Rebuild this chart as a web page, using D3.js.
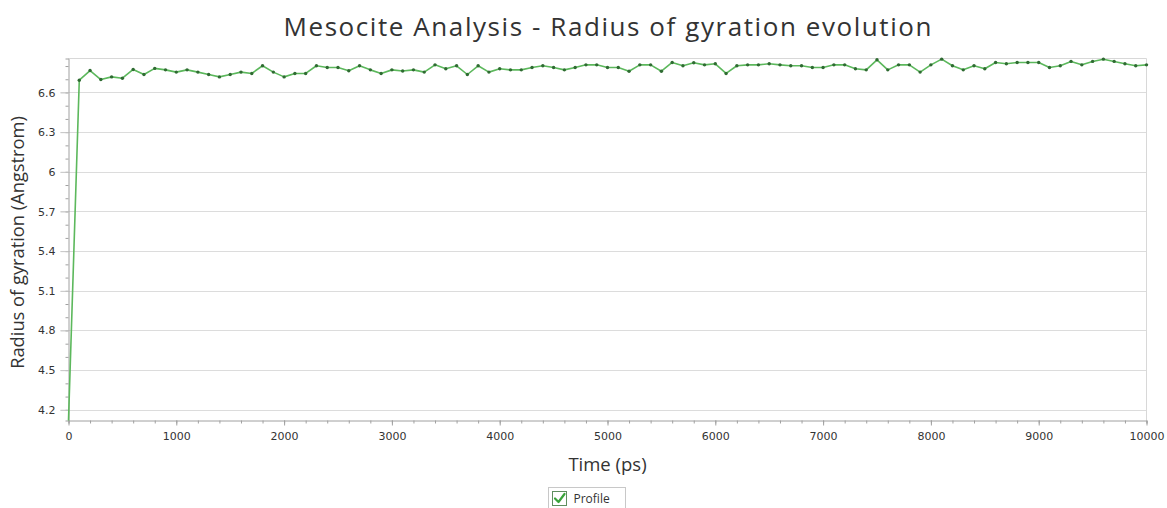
<!DOCTYPE html>
<html>
<head>
<meta charset="utf-8">
<script src="https://cdn.jsdelivr.net/npm/d3@7"></script>
<style>
  html, body { margin: 0; padding: 0; background: #fff; }
  svg { display: block; }
</style>
</head>
<body>
<svg id="chart" width="1167" height="508"></svg>
<script>
// Simulation time samples (ps)
const timePs = [
  0, 100, 200, 300, 400, 500, 600, 700, 800, 900,
  1000, 1100, 1200, 1300, 1400, 1500, 1600, 1700, 1800, 1900,
  2000, 2100, 2200, 2300, 2400, 2500, 2600, 2700, 2800, 2900,
  3000, 3100, 3200, 3300, 3400, 3500, 3600, 3700, 3800, 3900,
  4000, 4100, 4200, 4300, 4400, 4500, 4600, 4700, 4800, 4900,
  5000, 5100, 5200, 5300, 5400, 5500, 5600, 5700, 5800, 5900,
  6000, 6100, 6200, 6300, 6400, 6500, 6600, 6700, 6800, 6900,
  7000, 7100, 7200, 7300, 7400, 7500, 7600, 7700, 7800, 7900,
  8000, 8100, 8200, 8300, 8400, 8500, 8600, 8700, 8800, 8900,
  9000, 9100, 9200, 9300, 9400, 9500, 9600, 9700, 9800, 9900,
  10000
];

// Radius of gyration (Angstrom) at each time sample
const radiusProfile = [
  4.119, 6.693, 6.766, 6.698, 6.718, 6.708, 6.774, 6.736, 6.782, 6.771,
  6.754, 6.771, 6.754, 6.736, 6.718, 6.736, 6.754, 6.744, 6.802, 6.754,
  6.718, 6.744, 6.744, 6.802, 6.789, 6.789, 6.764, 6.802, 6.771, 6.744,
  6.771, 6.762, 6.771, 6.754, 6.809, 6.779, 6.802, 6.736, 6.802, 6.754,
  6.779, 6.771, 6.771, 6.789, 6.802, 6.789, 6.771, 6.789, 6.809, 6.809,
  6.789, 6.789, 6.761, 6.809, 6.809, 6.761, 6.827, 6.802, 6.825, 6.809,
  6.817, 6.744, 6.802, 6.809, 6.809, 6.817, 6.809, 6.802, 6.802, 6.789,
  6.789, 6.809, 6.809, 6.779, 6.771, 6.847, 6.771, 6.809, 6.809, 6.754,
  6.809, 6.852, 6.802, 6.771, 6.802, 6.779, 6.827, 6.817, 6.827, 6.827,
  6.827, 6.789, 6.802, 6.835, 6.809, 6.835, 6.852, 6.835, 6.817, 6.802,
  6.809
];

const xTickValues = [0, 1000, 2000, 3000, 4000, 5000, 6000, 7000, 8000, 9000, 10000];
const yTickValues = [4.2, 4.5, 4.8, 5.1, 5.4, 5.7, 6, 6.3, 6.6];
const seriesName = "Profile";
const titleText = "Mesocite Analysis - Radius of gyration evolution";
const xTitle = "Time (ps)";
const yTitle = "Radius of gyration (Angstrom)";

const svg = d3.select("#chart");
const plot = { left: 68.5, right: 1146.5, top: 58.5, bottom: 420.5 };

const x = d3.scaleLinear().domain([0, 10000]).range([plot.left, plot.right]);
const y = d3.scaleLinear().domain([4.119, 6.857]).range([plot.bottom, plot.top]);

const tickFont = "'DejaVu Sans', Verdana, sans-serif";
const uiFont = "'Open Sans', 'Noto Sans', sans-serif";

// Horizontal grid lines at labelled values
svg.append("g")
  .selectAll("line")
  .data(yTickValues)
  .join("line")
  .attr("x1", plot.left - 8).attr("x2", plot.right)
  .attr("y1", d => Math.round(y(d)) + 0.5).attr("y2", d => Math.round(y(d)) + 0.5)
  .attr("stroke", "#dcdcdc").attr("stroke-width", 1);

// Frame: light top and right borders
svg.append("line")
  .attr("x1", plot.left).attr("x2", plot.right)
  .attr("y1", plot.top).attr("y2", plot.top)
  .attr("stroke", "#d8d8d8");
svg.append("line")
  .attr("x1", plot.right).attr("x2", plot.right)
  .attr("y1", plot.top).attr("y2", plot.bottom)
  .attr("stroke", "#d8d8d8");

// Y axis: minor ticks every 0.1, labels every 0.3
const yMinor = d3.range(42, 69).map(v => v / 10);
svg.append("g")
  .attr("transform", `translate(${plot.left},0)`)
  .call(d3.axisLeft(y).tickValues(yMinor).tickSize(3).tickFormat(""))
  .call(g => g.select(".domain").attr("stroke", "#a0a0a0"))
  .call(g => g.selectAll(".tick line").attr("stroke", "#a0a0a0"));

svg.append("g")
  .attr("transform", `translate(${plot.left},0)`)
  .call(d3.axisLeft(y).tickValues(yTickValues).tickSize(8).tickPadding(5)
    .tickFormat(d => String(+d.toFixed(1))))
  .call(g => g.select(".domain").remove())
  .call(g => g.selectAll(".tick line").attr("stroke", "#c8c8c8"))
  .call(g => g.selectAll(".tick text")
    .attr("font-family", tickFont).attr("font-size", 11).attr("fill", "#333"));

// X axis: minor ticks every 200 ps, labels every 1000 ps
const xMinor = d3.range(0, 10001, 200);
svg.append("g")
  .attr("transform", `translate(0,${plot.bottom})`)
  .call(d3.axisBottom(x).tickValues(xMinor).tickSize(3).tickFormat(""))
  .call(g => g.select(".domain").attr("stroke", "#a0a0a0"))
  .call(g => g.selectAll(".tick line").attr("stroke", "#a0a0a0"));

svg.append("g")
  .attr("transform", `translate(0,${plot.bottom})`)
  .call(d3.axisBottom(x).tickValues(xTickValues).tickSize(5).tickPadding(7).tickFormat(d3.format("d")))
  .call(g => g.select(".domain").remove())
  .call(g => g.selectAll(".tick line").attr("stroke", "#a0a0a0"))
  .call(g => g.selectAll(".tick text")
    .attr("font-family", tickFont).attr("font-size", 11).attr("fill", "#333"));

// Series line and markers
const points = timePs.map((t, i) => ({ t, v: radiusProfile[i] }));
const line = d3.line().x(d => x(d.t)).y(d => y(d.v));

svg.append("path")
  .datum(points)
  .attr("d", line)
  .attr("fill", "none")
  .attr("stroke", "#5cb85c")
  .attr("stroke-width", 1.6)
  .attr("stroke-linejoin", "round");

svg.append("g")
  .selectAll("circle")
  .data(points.slice(1))
  .join("circle")
  .attr("cx", d => x(d.t))
  .attr("cy", d => y(d.v))
  .attr("r", 1.7)
  .attr("fill", "#2f6b32");

// Titles
svg.append("text")
  .attr("x", (plot.left + plot.right) / 2)
  .attr("y", 36)
  .attr("text-anchor", "middle")
  .attr("font-family", uiFont)
  .attr("font-size", 26)
  .attr("textLength", 648)
  .attr("lengthAdjust", "spacing")
  .attr("fill", "#333")
  .text(titleText);

svg.append("text")
  .attr("x", (plot.left + plot.right) / 2)
  .attr("y", 471)
  .attr("text-anchor", "middle")
  .attr("font-family", uiFont)
  .attr("font-size", 18.5)
  .attr("fill", "#333")
  .text(xTitle);

svg.append("text")
  .attr("transform", `translate(24,${(plot.top + plot.bottom) / 2 + 3}) rotate(-90)`)
  .attr("text-anchor", "middle")
  .attr("font-family", uiFont)
  .attr("font-size", 18.3)
  .attr("fill", "#333")
  .text(yTitle);

// Legend with a checkbox entry
const legend = svg.append("g").attr("transform", "translate(548.5,487.5)");
legend.append("rect")
  .attr("width", 77).attr("height", 22)
  .attr("fill", "#fff").attr("stroke", "#c8c8c8");
legend.append("rect")
  .attr("x", 4).attr("y", 4).attr("width", 14).attr("height", 14)
  .attr("fill", "#fff").attr("stroke", "#5f8f5f").attr("stroke-width", 1);
legend.append("path")
  .attr("d", "M6.5,11 L10,14.5 L16,6.5")
  .attr("fill", "none").attr("stroke", "#3aa33a").attr("stroke-width", 2.2)
  .attr("stroke-linecap", "round").attr("stroke-linejoin", "round");
legend.append("text")
  .attr("x", 25).attr("y", 15.5)
  .attr("font-family", uiFont).attr("font-size", 12)
  .attr("fill", "#333")
  .text(seriesName);
</script>
</body>
</html>
